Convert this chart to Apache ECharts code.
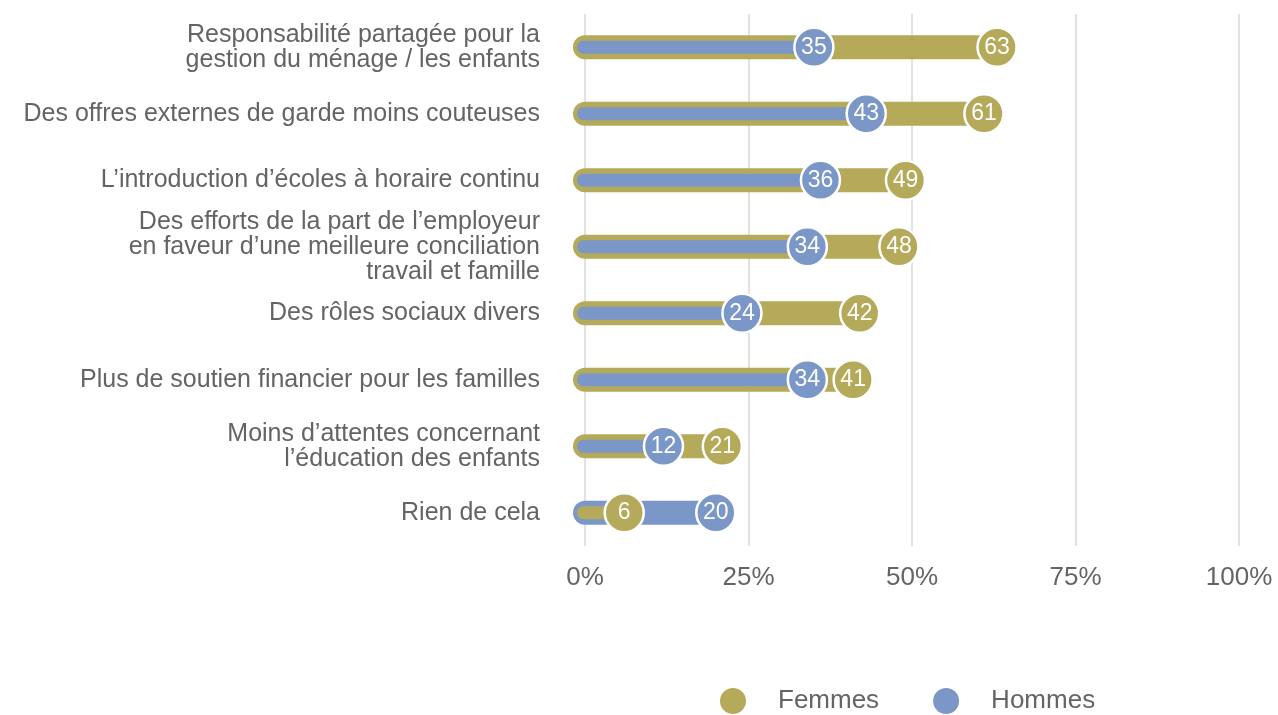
<!DOCTYPE html>
<html>
<head>
<meta charset="utf-8">
<script src="https://cdn.jsdelivr.net/npm/echarts@6/dist/echarts.min.js"></script>
<style>
  html, body { margin: 0; padding: 0; background: #fff; }
  #chart { width: 1278px; height: 715px; }
</style>
</head>
<body>
<div id="chart"></div>
<script>
const categories = [
  "Responsabilité partagée pour la\ngestion du ménage / les enfants",
  "Des offres externes de garde moins couteuses",
  "L’introduction d’écoles à horaire continu",
  "Des efforts de la part de l’employeur\nen faveur d’une meilleure conciliation\ntravail et famille",
  "Des rôles sociaux divers",
  "Plus de soutien financier pour les familles",
  "Moins d’attentes concernant\nl’éducation des enfants",
  "Rien de cela"
];
const femmes = [63, 61, 49, 48, 42, 41, 21, 6];
const hommes = [35, 43, 36, 34, 24, 34, 12, 20];
const xTicks = [0, 25, 50, 75, 100];

const OLIVE = "#b4aa5a";
const BLUE = "#7a97c8";
const TEXT = "#646464";
const FONT = "Liberation Sans, Arial, sans-serif";

const chart = echarts.init(document.getElementById("chart"));

// one row = [category index, femmes, hommes]
const rows = categories.map((c, i) => [i, femmes[i], hommes[i]]);

function renderRow(params, api) {
  const cat = api.value(0);
  const f = api.value(1);
  const h = api.value(2);
  const big = Math.max(f, h), small = Math.min(f, h);
  const bigColor = f >= h ? OLIVE : BLUE;
  const smallColor = f >= h ? BLUE : OLIVE;
  const p0 = api.coord([0, cat]);
  const pBig = api.coord([big, cat]);
  const pSmall = api.coord([small, cat]);
  const outerH = 24, innerH = 13;
  return {
    type: "group",
    children: [
      {
        type: "rect",
        shape: { x: p0[0] - 12, y: p0[1] - outerH / 2, width: pBig[0] - p0[0] + 12, height: outerH, r: outerH / 2 },
        style: { fill: bigColor }
      },
      {
        type: "rect",
        shape: { x: p0[0] - 8, y: p0[1] - innerH / 2, width: pSmall[0] - p0[0] + 8, height: innerH, r: innerH / 2 },
        style: { fill: smallColor }
      }
    ]
  };
}

function dotSeries(name, values, color) {
  return {
    name: name,
    type: "scatter",
    z: 5,
    symbol: "circle",
    symbolSize: 39,
    itemStyle: { color: color, borderColor: "#fff", borderWidth: 2.5, opacity: 1 },
    label: {
      show: true,
      position: "inside",
      color: "#fff",
      fontSize: 23,
      fontFamily: FONT,
      formatter: p => p.value[0]
    },
    data: values.map((v, i) => [v, i])
  };
}

chart.setOption({
  animation: false,
  backgroundColor: "#fff",
  grid: { left: 585, right: 39, top: 14, bottom: 169, containLabel: false },
  legend: {
    data: ["Femmes", "Hommes"],
    left: 713,
    top: 681,
    icon: "circle",
    itemWidth: 28,
    itemHeight: 28,
    itemGap: 52,
    textStyle: {
      color: TEXT,
      fontSize: 26,
      fontFamily: FONT,
      padding: [0, 0, 0, 26]
    }
  },
  xAxis: {
    type: "value",
    min: 0,
    max: 100,
    interval: 25,
    axisLine: { show: false },
    axisTick: { show: false },
    splitLine: { show: true, lineStyle: { color: "#d9d9d9", width: 1.5 } },
    axisLabel: {
      color: TEXT,
      fontSize: 26,
      margin: 19,
      fontFamily: FONT,
      formatter: v => xTicks.includes(v) ? v + "%" : ""
    }
  },
  yAxis: {
    type: "category",
    data: categories,
    inverse: true,
    axisLine: { show: false },
    axisTick: { show: false },
    axisLabel: {
      color: TEXT,
      fontSize: 25,
      lineHeight: 25,
      margin: 45,
      align: "right",
      fontFamily: FONT
    }
  },
  series: [
    {
      type: "custom",
      z: 2,
      renderItem: renderRow,
      encode: { x: [1, 2], y: 0 },
      data: rows,
      silent: true
    },
    dotSeries("Femmes", femmes, OLIVE),
    dotSeries("Hommes", hommes, BLUE)
  ]
});
</script>
</body>
</html>
